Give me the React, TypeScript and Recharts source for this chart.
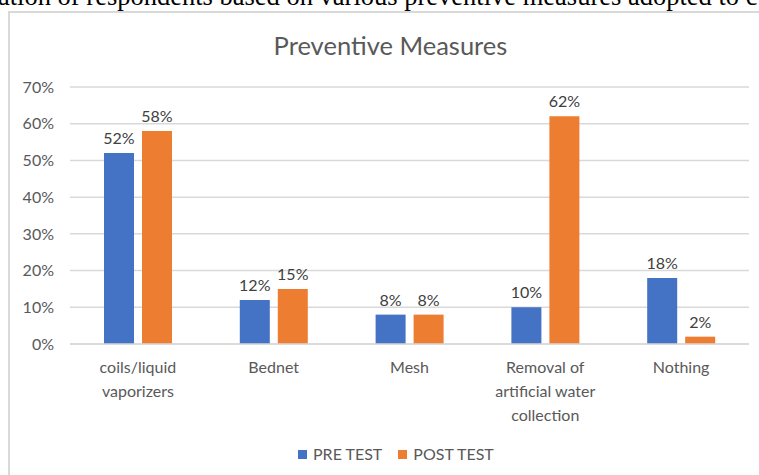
import React from 'react';
import { BarChart, Bar, XAxis, YAxis, CartesianGrid, LabelList } from 'recharts';

const categories = ['coils/liquid vaporizers', 'Bednet', 'Mesh', 'Removal of artificial water collection', 'Nothing'];
const categoryLines = [['coils/liquid', 'vaporizers'], ['Bednet'], ['Mesh'], ['Removal of', 'artificial water', 'collection'], ['Nothing']];
const preTest = [0.52, 0.12, 0.08, 0.10, 0.18];
const postTest = [0.58, 0.15, 0.08, 0.62, 0.02];
const yTicks = [0, 0.1, 0.2, 0.3, 0.4, 0.5, 0.6, 0.7];
const series = [
  { key: 'pre', name: 'PRE TEST', color: '#4472C4' },
  { key: 'post', name: 'POST TEST', color: '#ED7D31' },
];

const data = categories.map((c, i) => ({ name: c, pre: preTest[i], post: postTest[i] }));

const FONT = 'Lato, "Open Sans", sans-serif';
const pct = (v: number) => `${Math.round(v * 100)}%`;

const CategoryTick = (props: any) => {
  const { x, y, payload } = props;
  const lines = categoryLines[payload.index] || [payload.value];
  return (
    <g>
      {lines.map((l: string, i: number) => (
        <text key={i} x={x} y={y + 21 + i * 24} textAnchor="middle" fill="#595959" fontSize={16} fontFamily={FONT}>
          {l}
        </text>
      ))}
    </g>
  );
};

const App: React.FC = () => {
  return (
    <div style={{ position: 'fixed', left: 0, top: 0, width: 759, height: 475, overflow: 'hidden', background: '#fff' }}>
      <div style={{
        position: 'absolute', left: -2, top: -17, whiteSpace: 'nowrap',
        fontFamily: '"Liberation Serif", "Times New Roman", serif', fontSize: 26.5, lineHeight: '26px', color: '#000'
      }}>
        ation of respondents based on various preventive measures adopted to c
      </div>
      <div style={{ position: 'absolute', left: 8, top: 11, width: 800, height: 500, border: '2px solid #d9d9d9' }} />
      <div style={{
        position: 'absolute', left: 0, width: 781, top: 30, textAlign: 'center', lineHeight: '30px',
        fontFamily: FONT, fontSize: 25.5, color: '#595959'
      }}>
        Preventive Measures
      </div>
      <div style={{ position: 'absolute', left: 0, top: 0 }}>
        <BarChart width={759} height={475} data={data} margin={{ top: 87, right: 10, left: 0, bottom: 101 }}
          barGap={8} barSize={30}>
          <CartesianGrid vertical={false} stroke="#d9d9d9" strokeWidth={1.5} />
          <XAxis dataKey="name" height={30} axisLine={{ stroke: '#d9d9d9', strokeWidth: 1.5 }} tickLine={false}
            tick={<CategoryTick />} interval={0} />
          <YAxis width={70} domain={[0, 0.7]} ticks={yTicks} tickFormatter={pct} axisLine={false} tickLine={false}
            tickMargin={10} tick={{ fill: '#595959', fontSize: 16, fontFamily: FONT }} />
          {series.map(s => (
            <Bar key={s.key} dataKey={s.key} name={s.name} fill={s.color} isAnimationActive={false}>
              <LabelList dataKey={s.key} position="top" offset={9} formatter={(v: any) => pct(Number(v))}
                fill="#404040" fontSize={16} fontFamily={FONT} />
            </Bar>
          ))}
        </BarChart>
      </div>
      <div style={{ position: 'absolute', top: 444, left: 298, display: 'flex', gap: 16, fontFamily: FONT, fontSize: 16, lineHeight: '20px', color: '#595959' }}>
        {series.map(s => (
          <div key={s.key} style={{ display: 'flex', alignItems: 'center' }}>
            <span style={{ display: 'inline-block', width: 9, height: 9, background: s.color, marginRight: 6 }} />
            <span>{s.name}</span>
          </div>
        ))}
      </div>
    </div>
  );
};

export default App;
